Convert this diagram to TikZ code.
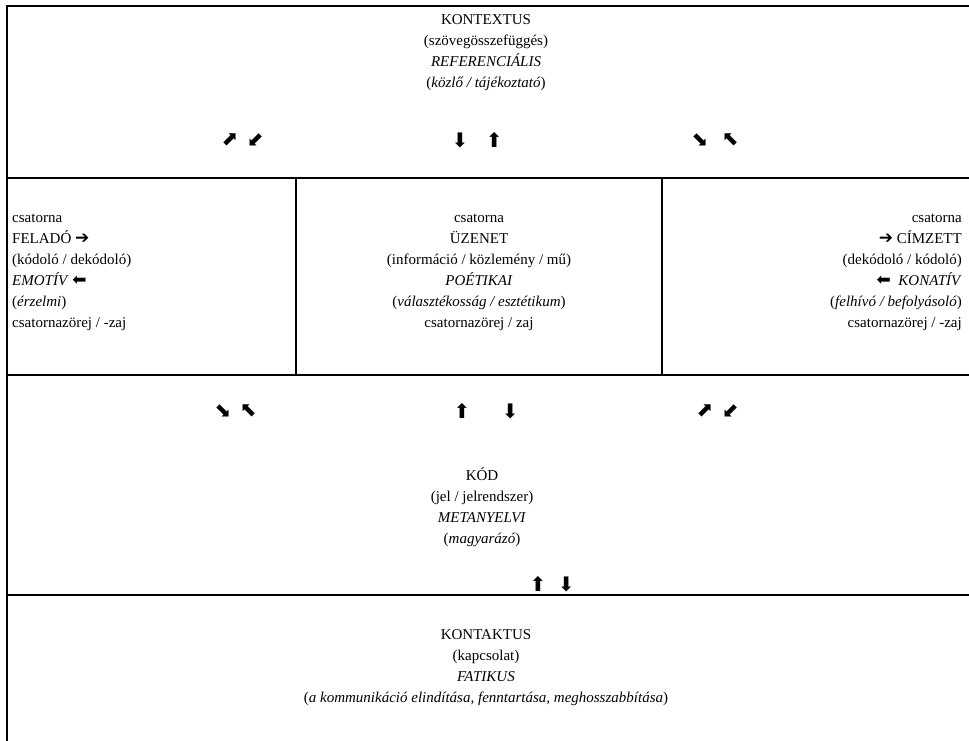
\documentclass[tikz,border=0pt]{standalone}
\usepackage{fontspec}
\setmainfont{Liberation Serif}
\newfontfamily\arrowfont{DejaVu Sans}
\usetikzlibrary{positioning}
\newcommand{\nyil}[1]{{\arrowfont\fontsize{17}{17}\selectfont#1}}

\begin{document}
\begin{tikzpicture}[x=1pt, y=-1pt,
    every node/.style={inner sep=0pt, font=\fontsize{15}{21}\selectfont},
    frame/.style={line width=2pt},
    glyph/.style={font=\arrowfont\fontsize{20}{20}\selectfont}]
    \useasboundingbox (0,0) rectangle (969,741);

    % table lines
    \draw[frame] (7,741) -- (7,6) -- (969,6);
    \draw[frame] (6,178) -- (969,178);
    \draw[frame] (6,375) -- (969,375);
    \draw[frame] (6,595) -- (969,595);
    \draw[frame] (296,178) -- (296,375);
    \draw[frame] (662,178) -- (662,375);

    % cells (base = last line)
    \node[anchor=base, align=center] (kontextus) at (486,88) {KONTEXTUS\\(szövegösszefüggés)\\\textit{REFERENCIÁLIS}\\(\textit{közlő / tájékoztató})};

    \node[anchor=base west, align=left] (felado) at (12,327) {csatorna\\FELADÓ \nyil{➔}\\(kódoló / dekódoló)\\\textit{EMOTÍV}\ \nyil{⬅}\\(\textit{érzelmi})\\csatornazörej / -zaj};
    \node[anchor=base, align=center] (uzenet) at (479,327) {csatorna\\ÜZENET\\(információ / közlemény / mű)\\\textit{POÉTIKAI}\\(\textit{választékosság / esztétikum})\\csatornazörej / zaj};
    \node[anchor=base east, align=right] (cimzett) at (962,327) {csatorna\\\nyil{➔} CÍMZETT\\(dekódoló / kódoló)\\\nyil{⬅}\ \ \textit{KONATÍV}\\(\textit{felhívó / befolyásoló})\\csatornazörej / -zaj};

    \node[anchor=base, align=center] (kod) at (482,543) {KÓD\\(jel / jelrendszer)\\\textit{METANYELVI}\\(\textit{magyarázó})};

    \node[anchor=base, align=center] (kontaktus) at (486,702) {KONTAKTUS\\(kapcsolat)\\\textit{FATIKUS}\\(\textit{a kommunikáció elindítása, fenntartása, meghosszabbítása})};

    % arrow pairs
    \node[glyph] (a1) at (230,140) {⬈};
    \node[glyph, right=8pt of a1] (a2) {⬋};
    \node[glyph] (b1) at (460,140) {⬇};
    \node[glyph, right=17pt of b1] (b2) {⬆};
    \node[glyph] (c1) at (700,140) {⬊};
    \node[glyph, right=13pt of c1] (c2) {⬉};

    \node[glyph] (d1) at (223,411) {⬊};
    \node[glyph, right=8pt of d1] (d2) {⬉};
    \node[glyph] (e1) at (462,411) {⬆};
    \node[glyph, right=31pt of e1] (e2) {⬇};
    \node[glyph] (f1) at (705,411) {⬈};
    \node[glyph, right=8pt of f1] (f2) {⬋};

    \node[glyph] (g1) at (538,584) {⬆};
    \node[glyph, right=11pt of g1] (g2) {⬇};
\end{tikzpicture}
\end{document}
